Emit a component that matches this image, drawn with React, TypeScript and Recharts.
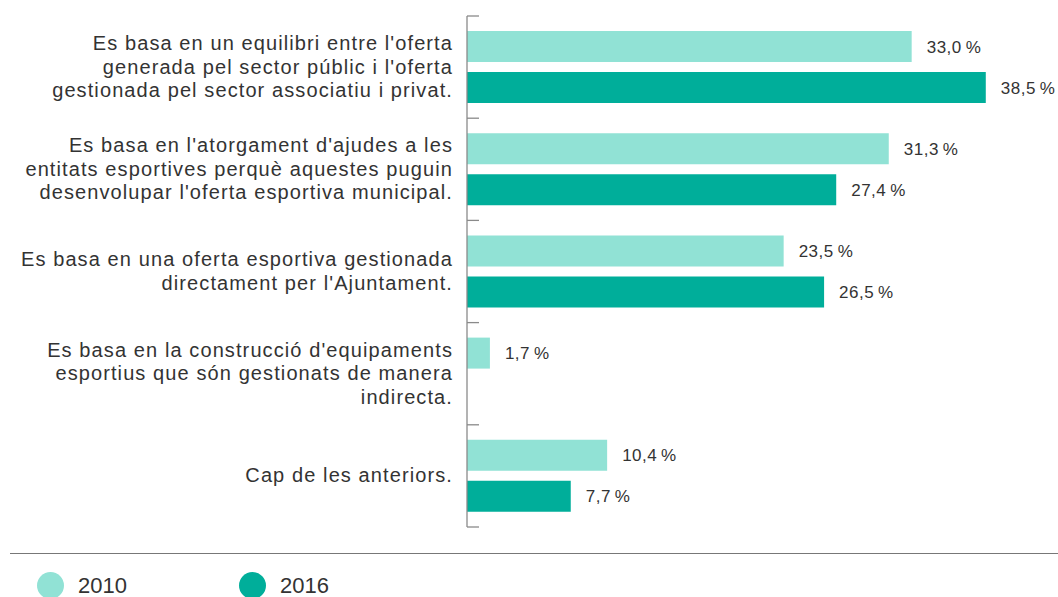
import React from "react";
import { BarChart, Bar, XAxis, YAxis, LabelList } from "recharts";

const categories = [
  "Es basa en un equilibri entre l'oferta\ngenerada pel sector públic i l'oferta\ngestionada pel sector associatiu i privat.",
  "Es basa en l'atorgament d'ajudes a les\nentitats esportives perquè aquestes puguin\ndesenvolupar l'oferta esportiva municipal.",
  "Es basa en una oferta esportiva gestionada\ndirectament per l'Ajuntament.",
  "Es basa en la construcció d'equipaments\nesportius que són gestionats de manera\nindirecta.",
  "Cap de les anteriors.",
];
const values2010 = [33.0, 31.3, 23.5, 1.7, 10.4];
const values2016: (number | null)[] = [38.5, 27.4, 26.5, null, 7.7];
const seriesNames = ["2010", "2016"];
const seriesColors = ["#91E2D5", "#00AE9A"];

const data = categories.map((c, i) => ({
  name: c,
  v2010: values2010[i],
  v2016: values2016[i],
}));

const FONT = "'Liberation Sans', Arial, Helvetica, sans-serif";
const TEXT = "#333333";
const AXIS = "#8a8a8a";

const fmt = (v: any) =>
  v == null ? "" : Number(v).toFixed(1).replace(".", ",") + "\u2009%";

const CategoryTick = (props: any) => {
  const { x, y, payload, index, visibleTicksCount } = props;
  const lines = String(payload.value).split("\n");
  const lh = 23.5;
  const half = payload.offset ?? 0;
  const isLast = visibleTicksCount != null ? index === visibleTicksCount - 1 : index === categories.length - 1;
  return (
    <g>
      <line x1={x} x2={x + 12} y1={y - half} y2={y - half} stroke={AXIS} strokeWidth={1.3} />
      {isLast && (
        <line x1={x} x2={x + 12} y1={y + half} y2={y + half} stroke={AXIS} strokeWidth={1.3} />
      )}
      <text
        x={x - 15}
        y={y}
        textAnchor="end"
        fill={TEXT}
        fontSize={20}
        letterSpacing={1.1}
        fontFamily={FONT}
      >
        {lines.map((l, i) => (
          <tspan key={i} x={x - 14} y={y + (i - (lines.length - 1) / 2) * lh + 6.5}>
            {l}
          </tspan>
        ))}
      </text>
    </g>
  );
};

export default function App() {
  return (
    <div
      style={{
        position: "fixed",
        left: 0,
        top: 0,
        width: 1058,
        height: 597,
        overflow: "hidden",
        background: "#fff",
        fontFamily: FONT,
      }}
    >
      <div style={{ position: "absolute", left: 0, top: 0 }}>
        <BarChart
          width={1058}
          height={540}
          data={data}
          layout="vertical"
          margin={{ top: 16, right: 52, bottom: 13, left: 7 }}
          barSize={31}
          barGap={10}
        >
          <XAxis type="number" domain={[0, 40]} hide />
          <YAxis
            type="category"
            dataKey="name"
            width={460}
            tick={<CategoryTick />}
            tickLine={false}
            tickSize={0}
            tickMargin={0}
            axisLine={{ stroke: AXIS, strokeWidth: 1.3 }}
            interval={0}
          />
          <Bar dataKey="v2010" name={seriesNames[0]} fill={seriesColors[0]} isAnimationActive={false}>
            <LabelList
              dataKey="v2010"
              position="right"
              offset={15}
              formatter={fmt}
              fill={TEXT}
              fontSize={17}
              letterSpacing={0.5}
              fontFamily={FONT}
            />
          </Bar>
          <Bar dataKey="v2016" name={seriesNames[1]} fill={seriesColors[1]} isAnimationActive={false}>
            <LabelList
              dataKey="v2016"
              position="right"
              offset={15}
              formatter={fmt}
              fill={TEXT}
              fontSize={17}
              letterSpacing={0.5}
              fontFamily={FONT}
            />
          </Bar>
        </BarChart>
      </div>
      <div
        style={{
          position: "absolute",
          left: 10,
          right: 0,
          top: 553,
          height: 0,
          borderTop: "1.5px solid #777",
        }}
      />
      {seriesNames.map((n, i) => (
        <div
          key={n}
          style={{
            position: "absolute",
            left: 37 + i * 202,
            top: 572,
            display: "flex",
            alignItems: "center",
          }}
        >
          <div
            style={{
              width: 27,
              height: 27,
              borderRadius: "50%",
              background: seriesColors[i],
            }}
          />
          <span style={{ marginLeft: 14, fontSize: 22, color: TEXT, lineHeight: "27px" }}>{n}</span>
        </div>
      ))}
    </div>
  );
}
